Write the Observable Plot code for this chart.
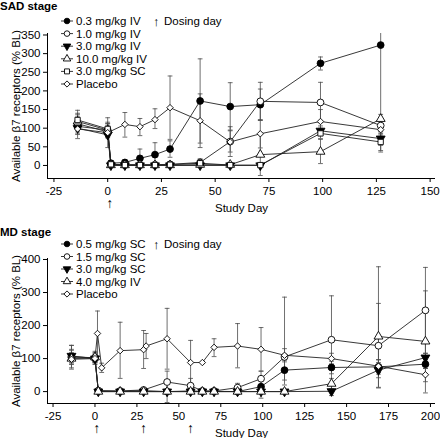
<!DOCTYPE html>
<html><head><meta charset="utf-8">
<script src="https://cdn.jsdelivr.net/npm/d3@7"></script>
<script src="https://cdn.jsdelivr.net/npm/@observablehq/plot@0.6"></script>
<style>
body{margin:0;background:#fff;}
#wrap{position:relative;width:440px;height:438px;overflow:hidden;font-family:"Liberation Sans",Arial,sans-serif;}
#wrap svg{position:absolute;left:0;}
</style></head><body><div id="wrap"></div>
<script>
// ---------- SAD stage data ----------
const sadDays = [-14, 0, 1.5, 8, 15, 22, 29, 43, 57, 71, 99, 127];
const sad03   = [105, 95, 6, 8, 19, 29, 44, 173, 158, 163, 274, 323];
const sad03Hi = [130, 112, 12, 14, 44, 61, 66, 286, 222, 205, 291, 380];
const sad03Lo = [84, 80, 0, 2, -6, -3, 22, 60, 95, 121, 256, 36];
const sad10   = [112, 90, 3, 2, 2, 2, 3, 8, 64, 172, 169, 107];
const sad10Hi = [136, 106, 8, 6, 6, 6, 8, 18, 104, 223, 223, 122];
const sad10Lo = [90, 74, -2, -2, -2, -2, -2, -2, 24, 121, 115, 92];
const sad30   = [100, 82, 0, 0, 0, 0, 0, 0, 0, 0, 93, 72];
const sad30Hi = [116, 128, 3, 3, 3, 3, 3, 3, 3, 3, 106, 90];
const sad30Lo = [84, 48, -3, -3, -3, -3, -3, -3, -3, -3, 80, 54];
const sad100   = [118, 95, 1, 1, 1, 1, 1, 2, 2, 29, 37, 125];
const sad100Hi = [140, 112, 4, 4, 4, 4, 4, 6, 6, 85, 70, 137];
const sad100Lo = [96, 78, -2, -2, -2, -2, -2, -2, -2, -27, 5, 113];
const sadSC   = [122, 98, 3, 1, 1, 1, 2, 6, 1, 1, 86, 63];
const sadSCHi = [148, 116, 7, 4, 4, 4, 6, 14, 5, 5, 100, 86];
const sadSCLo = [98, 82, -1, -2, -2, -2, -2, -2, -3, -3, 72, 40];
const sadPbo   = [98, 88, null, 110, 104, 123, 155, 120, 63, 85, 118, 96];
const sadPboHi = [121, 100, null, 142, 126, 152, 240, 192, 93, 123, 150, 110];
const sadPboLo = [72, 76, null, 76, 80, 99, 70, 48, 36, 47, 86, 82];
const sadNames = ["0.3 mg/kg IV", "1.0 mg/kg IV", "3.0 mg/kg IV", "10.0 mg/kg IV", "3.0 mg/kg SC", "Placebo"];
const sadTicksX = [-25, 0, 25, 50, 75, 100, 125, 150];
const sadTicksY = [0, 50, 100, 150, 200, 250, 300, 350];
const sadDosing = [1];

// ---------- MD stage data ----------
const mdDays = [-14, 0, 2, 15, 29, 43, 57, 64, 71, 85, 99, 113, 141, 169, 197];
const md05   = [103, 100, 2, 1, 3, 0, 2, 1, 1, 0, 15, 65, 73, 75, 83];
const md05Hi = [125, 112, 6, 5, 8, 4, 6, 4, 4, 3, 45, 95, 92, 97, 96];
const md05Lo = [84, 88, -2, -3, -2, -4, -2, -2, -2, -3, -20, 35, 54, 53, 70];
const md15   = [106, 102, 3, 2, 5, 29, 18, 2, 2, 12, 39, 105, 157, 139, 246];
const md15Hi = [140, 122, 7, 6, 10, 62, 40, 6, 6, 25, 62, 286, 290, 267, 376];
const md15Lo = [72, 82, -1, -2, 0, -33, -4, -2, -2, 0, 16, 20, -2, 11, 116];
const md30   = [108, 100, 0, 0, 0, 0, 0, 0, 0, 0, 0, 0, 1, 65, 103];
const md30Hi = [128, 112, 3, 3, 3, 3, 3, 3, 3, 3, 3, 4, 6, 88, 116];
const md30Lo = [88, 88, -3, -3, -3, -3, -3, -3, -3, -3, -3, -4, -12, 42, 90];
const md40   = [100, 104, 0, 0, 0, 0, 0, 0, 0, 0, 0, 0, 24, 167, 152];
const md40Hi = [118, 118, 3, 3, 3, 3, 3, 3, 3, 3, 3, 4, 40, 378, 305];
const md40Lo = [82, 90, -3, -3, -3, -3, -3, -3, -3, -3, -3, -4, 8, 13, -4];
const mdPboDays = [-14, 0, 1.5, 4, 15, 29, 30.5, 43, 57, 64, 71, 85, 99, 113, 141, 169, 197];
const mdPbo   = [98, 100, 176, 72, 124, 127, 138, 160, 88, 88, 134, 138, 128, 110, 100, 77, 51];
const mdPboHi = [140, 116, 244, 86, 210, 185, 176, 252, 155, 88, 160, 206, 194, 130, 116, 96, 70];
const mdPboLo = [68, 84, 108, 58, 40, 70, 100, 68, 21, 88, 106, 72, 62, 90, 84, 58, 30];
const mdNames = ["0.5 mg/kg SC", "1.5 mg/kg SC", "3.0 mg/kg SC", "4.0 mg/kg IV", "Placebo"];
const mdTicksX = [-25, 0, 25, 50, 75, 100, 125, 150, 175, 200];
const mdTicksY = [0, 100, 200, 300, 400];
const mdDosing = [1, 29, 57];

// ---------- styles ----------
const sqrt3 = Math.sqrt(3);
const triangleDown = {draw(ctx, size) {
  const y = Math.sqrt(size / (sqrt3 * 3));
  ctx.moveTo(0, y * 2); ctx.lineTo(-sqrt3 * y, -y); ctx.lineTo(sqrt3 * y, -y); ctx.closePath();
}};
const capSymbol = {draw(ctx) { ctx.moveTo(-2.4, 0); ctx.lineTo(2.4, 0); }};
const sadSymbols = ["circle", "circle", triangleDown, "triangle", "square", "diamond2"];
const sadFills = ["#000", "#fff", "#000", "#fff", "#fff", "#fff"];
const sadR = [3.4, 3.4, 3.3, 3.3, 3.0, 2.9];
const mdSymbols = ["circle", "circle", triangleDown, "triangle", "diamond2"];
const mdFills = ["#000", "#fff", "#000", "#fff", "#fff"];
const mdR = [3.4, 3.4, 3.3, 3.3, 2.9];
const FONT = "'Liberation Sans', Arial, sans-serif";
const AXIS_FS = 11.5;

function rows(days, mean, hi, lo) {
  return days.map((d, i) => ({day: d, v: mean[i], hi: hi[i], lo: lo[i]})).filter(r => r.v != null);
}

const sadSeries = [
  rows(sadDays, sad03, sad03Hi, sad03Lo),
  rows(sadDays, sad10, sad10Hi, sad10Lo),
  rows(sadDays, sad30, sad30Hi, sad30Lo),
  rows(sadDays, sad100, sad100Hi, sad100Lo),
  rows(sadDays, sadSC, sadSCHi, sadSCLo),
  rows(sadDays, sadPbo, sadPboHi, sadPboLo)
];
const mdSeries = [
  rows(mdDays, md05, md05Hi, md05Lo),
  rows(mdDays, md15, md15Hi, md15Lo),
  rows(mdDays, md30, md30Hi, md30Lo),
  rows(mdDays, md40, md40Hi, md40Lo),
  rows(mdPboDays, mdPbo, mdPboHi, mdPboLo)
];

function panel(cfg) {
  const marks = [
    Plot.ruleX([cfg.xDomain[0]], {stroke: "#000", strokeWidth: 1}),
    Plot.ruleY([cfg.yDomain[0]], {stroke: "#000", strokeWidth: 1}),
    Plot.axisX({ticks: cfg.xTicks, tickSize: 4, tickPadding: 4, tickFormat: d => String(d), fontSize: AXIS_FS,
      label: "Study Day", labelAnchor: "center", labelOffset: 33, labelArrow: "none"}),
    Plot.axisY({ticks: cfg.yTicks, tickSize: 4, tickPadding: 3, tickFormat: d => String(d), fontSize: AXIS_FS,
      label: "Available β7 receptors (% BL)", labelAnchor: "center", labelOffset: 36, labelArrow: "none"})
  ];
  const eb = {stroke: "#4a4a4a", strokeWidth: 0.8, clip: true};
  cfg.series.forEach(s => {
    marks.push(Plot.ruleX(s, {x: "day", y1: "lo", y2: "hi", ...eb}));
    marks.push(Plot.dot(s, {x: "day", y: "hi", symbol: capSymbol, fill: "none", ...eb}));
    marks.push(Plot.dot(s, {x: "day", y: "lo", symbol: capSymbol, fill: "none", ...eb}));
  });
  cfg.series.forEach(s => {
    marks.push(Plot.line(s, {x: "day", y: "v", stroke: "#222", strokeWidth: 0.9}));
  });
  cfg.series.forEach((s, i) => {
    marks.push(Plot.dot(s, {x: "day", y: "v", symbol: cfg.symbols[i], r: cfg.r[i],
      fill: cfg.fills[i], stroke: "#000", strokeWidth: 0.9}));
  });
  marks.push(Plot.text(cfg.dosing, {x: d => d, frameAnchor: "bottom", lineAnchor: "top", dy: 20,
    text: () => "↑", fontSize: 14, fill: "#000"}));
  const svg = Plot.plot({
    width: 440, height: cfg.height,
    marginTop: cfg.marginTop, marginBottom: cfg.marginBottom, marginLeft: 47, marginRight: 5,
    x: {domain: cfg.xDomain}, y: {domain: cfg.yDomain},
    style: {fontFamily: FONT, fontSize: "11.5px", color: "#000", background: "transparent", overflow: "visible"},
    marks
  });
  svg.style.top = cfg.top + "px";
  return svg;
}

const wrap = document.getElementById("wrap");
wrap.appendChild(panel({top: 0, height: 219, marginTop: 33, marginBottom: 41,
  xDomain: [-28, 152.5], yDomain: [-35, 354], xTicks: sadTicksX, yTicks: sadTicksY,
  dosing: sadDosing, series: sadSeries, symbols: sadSymbols, fills: sadFills, r: sadR}));
wrap.appendChild(panel({top: 219, height: 219, marginTop: 39, marginBottom: 35,
  xDomain: [-28.3, 203], yDomain: [-36, 403], xTicks: mdTicksX, yTicks: mdTicksY,
  dosing: mdDosing, series: mdSeries, symbols: mdSymbols, fills: mdFills, r: mdR}));

// ---------- titles and legends ----------
const ov = d3.select(wrap).append("svg").attr("width", 440).attr("height", 438)
  .style("top", "0px").style("font-family", FONT).style("font-size", "11.5px");
function sym(type, r) {
  const t = type === "circle" ? d3.symbolCircle : type === "triangle" ? d3.symbolTriangle :
    type === "square" ? d3.symbolSquare : type === "diamond2" ? d3.symbolDiamond2 : type;
  return d3.symbol().type(t).size(r * r * Math.PI)();
}
function legend(title, titleY, names, symbols, fills, y0, dy) {
  ov.append("text").attr("x", 0).attr("y", titleY).attr("font-weight", "bold").text(title);
  names.forEach((n, i) => {
    const y = y0 + dy * i;
    ov.append("line").attr("x1", 61).attr("x2", 73).attr("y1", y).attr("y2", y).attr("stroke", "#222").attr("stroke-width", 0.9);
    ov.append("path").attr("d", sym(symbols[i], 2.8)).attr("transform", `translate(67,${y})`)
      .attr("fill", fills[i]).attr("stroke", "#000").attr("stroke-width", 0.9);
    ov.append("text").attr("x", 76).attr("y", y).attr("dy", "0.35em").text(n);
  });
  ov.append("text").attr("x", 153).attr("y", y0).attr("dy", "0.35em").attr("font-size", 13).text("↑");
  ov.append("text").attr("x", 164).attr("y", y0).attr("dy", "0.35em").text("Dosing day");
}
legend("SAD stage", 10, sadNames, sadSymbols, sadFills, 21, 12.6);
legend("MD stage", 236, mdNames, mdSymbols, mdFills, 244, 12.5);
</script></body></html>
